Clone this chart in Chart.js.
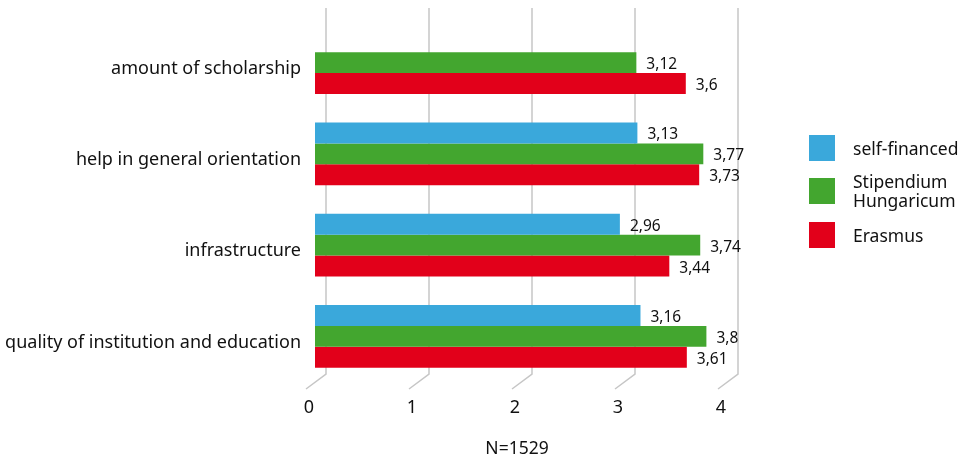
<!DOCTYPE html>
<html>
<head>
<meta charset="utf-8">
<script src="https://cdn.jsdelivr.net/npm/chart.js@4.4.1/dist/chart.umd.min.js"></script>
<style>
  html, body { margin: 0; padding: 0; background: #ffffff; }
  #wrap { width: 967px; height: 460px; position: relative; }
</style>
</head>
<body>
<div id="wrap"><canvas id="chart" width="967" height="460"></canvas></div>
<script>
// Mean ratings by funding type
const categories = [
  'amount of scholarship',
  'help in general orientation',
  'infrastructure',
  'quality of institution and education'
];
const selfFinanced = [null, 3.13, 2.96, 3.16];
const stipendium = [3.12, 3.77, 3.74, 3.8];
const erasmus = [3.6, 3.73, 3.44, 3.61];
const seriesNames = ['self-financed', ['Stipendium', 'Hungaricum'], 'Erasmus'];
const xTicks = [0, 1, 2, 3, 4];
const footnote = 'N=1529';

const FONT = '"Noto Sans", "Open Sans", sans-serif';
const TEXT = '#111111';
const GRID = '#c6c6c6';
const colors = ['#3aa8db', '#43a62f', '#e2001a'];

// Back-wall gridlines with a slanted floor edge, drawn behind the bars
const depthGrid = {
  id: 'depthGrid',
  beforeDatasetsDraw(chart) {
    const { ctx, chartArea, scales } = chart;
    const x = scales.x;
    ctx.save();
    ctx.strokeStyle = GRID;
    ctx.lineWidth = 1.5;
    xTicks.forEach(v => {
      const px = x.getPixelForValue(v);
      const bx = px + 11;
      const top = chartArea.top - 9;
      const bottom = chartArea.bottom - 8;
      ctx.beginPath();
      ctx.moveTo(bx, top);
      ctx.lineTo(bx, bottom);
      ctx.lineTo(px - 9, chartArea.bottom + 7);
      ctx.stroke();
    });
    ctx.restore();
  }
};

// Value labels at the end of each bar, decimal comma
const valueLabels = {
  id: 'valueLabels',
  afterDatasetsDraw(chart) {
    const { ctx } = chart;
    ctx.save();
    ctx.font = '15.5px ' + FONT;
    ctx.fillStyle = TEXT;
    ctx.textAlign = 'left';
    ctx.textBaseline = 'middle';
    chart.data.datasets.forEach((ds, i) => {
      const meta = chart.getDatasetMeta(i);
      meta.data.forEach((el, j) => {
        const v = ds.data[j];
        if (v === null || v === undefined) return;
        ctx.fillText(String(v).replace('.', ','), el.x + 10, el.y + 2);
      });
    });
    ctx.restore();
  }
};

// Legend on the right with square swatches, plus the sample-size note
const sideLegend = {
  id: 'sideLegend',
  afterDraw(chart) {
    const { ctx, chartArea } = chart;
    const left = chartArea.right + 82;
    const textX = left + 44;
    const rows = [135, 178, 222];
    ctx.save();
    ctx.font = '17.5px ' + FONT;
    ctx.textBaseline = 'middle';
    ctx.textAlign = 'left';
    chart.data.datasets.forEach((ds, i) => {
      const y = rows[i];
      ctx.fillStyle = ds.backgroundColor;
      ctx.fillRect(left, y, 26, 26);
      ctx.fillStyle = TEXT;
      const lines = Array.isArray(seriesNames[i]) ? seriesNames[i] : [seriesNames[i]];
      const lh = 19;
      const start = y + 13 - (lines.length - 1) * lh / 2 + 2;
      lines.forEach((t, k) => ctx.fillText(t, textX, start + k * lh));
    });
    ctx.font = '17.5px ' + FONT;
    ctx.textAlign = 'center';
    ctx.fillText(footnote, (chartArea.left + chartArea.right) / 2 - 4, chartArea.bottom + 67);
    ctx.restore();
  }
};

new Chart(document.getElementById('chart'), {
  type: 'bar',
  data: {
    labels: categories,
    datasets: [
      { label: 'self-financed', data: selfFinanced, backgroundColor: colors[0] },
      { label: 'Stipendium Hungaricum', data: stipendium, backgroundColor: colors[1] },
      { label: 'Erasmus', data: erasmus, backgroundColor: colors[2] }
    ]
  },
  options: {
    indexAxis: 'y',
    responsive: false,
    animation: false,
    devicePixelRatio: 1,
    layout: { padding: { top: 17, right: 240, bottom: 0, left: 0 } },
    datasets: { bar: { categoryPercentage: 0.69, barPercentage: 1, borderWidth: 0 } },
    plugins: {
      legend: { display: false },
      tooltip: { enabled: false }
    },
    scales: {
      x: {
        min: 0,
        max: 4,
        afterBuildTicks(scale) { scale.ticks = xTicks.map(v => ({ value: v })); },
        afterFit(scale) {
          scale.height = 78;
          scale.paddingLeft = 0;
          scale.paddingRight = 0;
        },
        grid: { display: false, drawTicks: false },
        border: { display: false },
        ticks: {
          font: { family: FONT, size: 18 },
          color: TEXT,
          padding: 15,
          labelOffset: -6
        }
      },
      y: {
        afterFit(scale) {
          scale.width = 315;
          scale.paddingTop = 0;
          scale.paddingBottom = 0;
        },
        grid: { display: false, drawTicks: false },
        border: { display: false },
        ticks: {
          font: { family: FONT, size: 18 },
          color: TEXT,
          padding: 14,
          labelOffset: 6
        }
      }
    }
  },
  plugins: [depthGrid, valueLabels, sideLegend]
});
</script>
</body>
</html>
